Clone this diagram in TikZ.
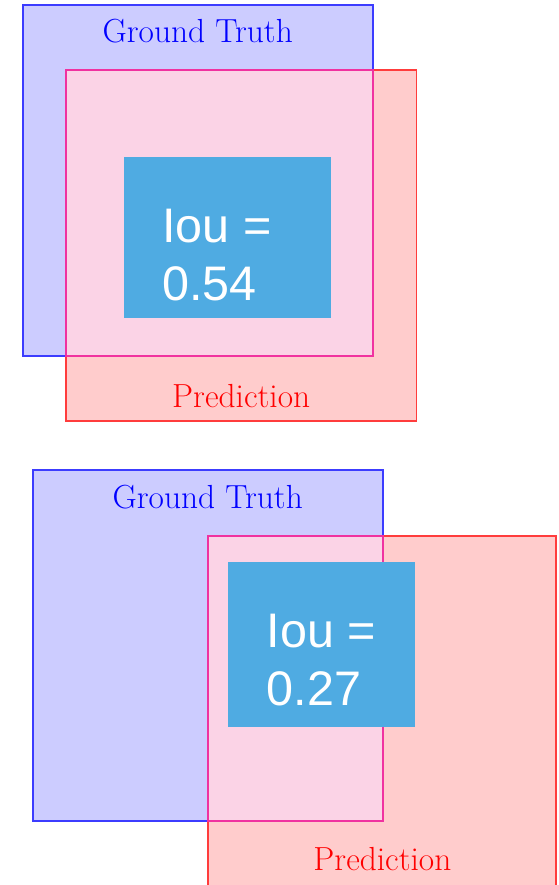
\documentclass[tikz,border=0pt]{standalone}
\usepackage{fontspec}
\newfontfamily\arialfont{Liberation Sans}
\definecolor{gtfill}{RGB}{204,204,255}
\definecolor{gtline}{RGB}{60,60,255}
\definecolor{predfill}{RGB}{255,204,204}
\definecolor{predline}{RGB}{255,60,60}
\definecolor{ovfill}{RGB}{251,211,230}
\definecolor{ovline}{RGB}{240,50,160}
\definecolor{boxblue}{RGB}{79,171,226}
\tikzset{
  gtlabel/.style={text=blue, font=\fontsize{33.4}{40}\selectfont, anchor=base, inner sep=0pt},
  predlabel/.style={text=red, font=\fontsize{33.4}{40}\selectfont, anchor=base, inner sep=0pt},
  ioutext/.style={text=white, font=\arialfont\fontsize{48.5}{58}\selectfont, anchor=base west, inner sep=0pt},
  edge/.style={line width=1.8pt},
}
\begin{document}
\begin{tikzpicture}[x=1pt,y=-1pt]
\useasboundingbox (0,0) rectangle (558,885);
% ---------- top ----------
\fill[gtfill] (22.7,5) rectangle (372.7,355.7);
\fill[predfill] (66,70.3) rectangle (416.5,420.7);
\fill[ovfill] (66,70.3) rectangle (372.7,355.7);
\draw[edge,gtline] (22.7,5) rectangle (372.7,355.7);
\draw[edge,predline] (66,70.3) rectangle (416.5,420.7);
\draw[edge,ovline] (66,70.3) rectangle (372.7,355.7);
\node[fill=boxblue, minimum width=207pt, minimum height=161pt, inner sep=0pt, anchor=north west] (box1) at (124,156.8) {};
\node[ioutext] (t1a) at (162.3,242) {Iou =};
\node[ioutext] (t1b) at (162.3,300.5) {0.54};
\node[gtlabel] (gt1) at (197.7,43) {Ground Truth};
\node[predlabel] (pr1) at (241.2,407.3) {Prediction};
% ---------- bottom ----------
\fill[gtfill] (32.7,470) rectangle (382.7,820.7);
\fill[predfill] (207.7,535.7) rectangle (556.3,886.2);
\fill[ovfill] (207.7,535.7) rectangle (382.7,820.7);
\draw[edge,gtline] (32.7,470) rectangle (382.7,820.7);
\draw[edge,predline] (207.7,535.7) rectangle (556.3,886.2);
\draw[edge,ovline] (207.7,535.7) rectangle (382.7,820.7);
\node[fill=boxblue, minimum width=187pt, minimum height=164.7pt, inner sep=0pt, anchor=north west] (box2) at (228,562) {};
\node[ioutext] (t2a) at (266.6,647.7) {Iou =};
\node[ioutext] (t2b) at (266.6,705) {0.27};
\node[gtlabel] (gt2) at (207.7,508.3) {Ground Truth};
\node[predlabel] (pr2) at (382.4,870.7) {Prediction};
\end{tikzpicture}
\end{document}
